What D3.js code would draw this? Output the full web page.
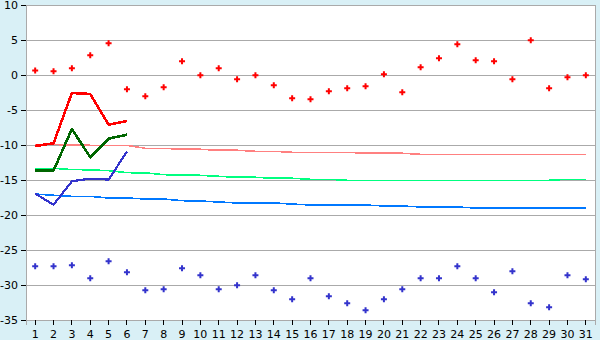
<!DOCTYPE html>
<html><head><meta charset="utf-8">
<script src="https://cdn.jsdelivr.net/npm/d3@7/dist/d3.min.js"></script>
<style>
html,body{margin:0;padding:0;background:#d9f0f6;}
svg{display:block;}
text{font-family:"DejaVu Sans",sans-serif;font-size:11px;fill:#000;}
</style></head><body>
<svg id="c" width="600" height="340"></svg>
<script>
const days = d3.range(1, 32);
const yTicks = [-35, -30, -25, -20, -15, -10, -5, 0, 5, 10];

const redPoints = [0.7,0.57,1.0,2.86,4.57,-2.0,-3.0,-1.71,2.0,0,1.0,-0.57,0,-1.43,-3.29,-3.43,-2.29,-1.86,-1.57,0.14,-2.43,1.14,2.43,4.43,2.14,2.0,-0.57,5.0,-1.86,-0.29,0];
const bluePoints = [-27.29,-27.29,-27.14,-29.0,-26.57,-28.14,-30.71,-30.57,-27.57,-28.57,-30.57,-30.0,-28.57,-30.71,-32.0,-29.0,-31.57,-32.57,-33.57,-32.0,-30.57,-29.0,-29.0,-27.29,-29.0,-31.0,-28.0,-32.57,-33.14,-28.57,-29.14];

const redLine = [-10.1,-9.71,-2.53,-2.67,-7.05,-6.53];
const greenLine = [-13.62,-13.62,-7.67,-11.71,-9.05,-8.48];
const blueLine = [-16.9,-18.48,-15.14,-14.76,-14.9,-10.9];

const pinkNormal = [-9.86,-9.9,-9.95,-10.0,-10.0,-10.0,-10.43,-10.43,-10.57,-10.57,-10.71,-10.71,-10.86,-10.86,-11.0,-11.0,-11.0,-11.0,-11.14,-11.14,-11.14,-11.29,-11.29,-11.29,-11.29,-11.29,-11.29,-11.29,-11.29,-11.29,-11.29];
const greenNormal = [-13.29,-13.29,-13.47,-13.5,-13.63,-13.91,-13.93,-14.2,-14.22,-14.29,-14.43,-14.57,-14.57,-14.71,-14.71,-14.86,-14.86,-15.0,-15.0,-15.0,-15.0,-15.0,-15.0,-15.0,-15.0,-15.0,-15.0,-15.0,-15.0,-14.86,-14.86];
const blueNormal = [-16.96,-17.14,-17.29,-17.29,-17.53,-17.53,-17.67,-17.67,-17.91,-17.96,-18.1,-18.24,-18.24,-18.24,-18.39,-18.53,-18.53,-18.53,-18.53,-18.67,-18.67,-18.81,-18.81,-18.81,-18.96,-18.96,-18.96,-18.96,-18.96,-18.96,-18.96];

const svg = d3.select("#c");
const L = 26, R = 595, T = 5.3, B = 320.3;
const x = d3.scaleBand().domain(days).range([L, R]).padding(0);
const cx = d => x(d) + x.bandwidth() / 2;
const y = d3.scaleLinear().domain([-35, 10]).range([B, T]);

svg.append("rect").attr("x", L).attr("y", T).attr("width", R - L).attr("height", B - T).attr("fill", "#fff");

// gridlines
svg.append("g").selectAll("line").data(yTicks).join("line")
  .attr("x1", L).attr("x2", R).attr("y1", d => y(d)).attr("y2", d => y(d))
  .attr("stroke", "#aaaaaa").attr("stroke-width", 1).attr("shape-rendering", "crispEdges");

// border
svg.append("rect").attr("x", L).attr("y", T).attr("width", R - L).attr("height", B - T)
  .attr("fill", "none").attr("stroke", "#aaaaaa").attr("shape-rendering", "crispEdges");

// axes
const fmt = d => String(d);
const yAxis = svg.append("g").attr("transform", `translate(${L},0)`)
  .call(d3.axisLeft(y).tickValues(yTicks).tickFormat(fmt).tickSize(5).tickPadding(3));
const xAxis = svg.append("g").attr("transform", `translate(0,${B})`)
  .call(d3.axisBottom(x).tickSize(5).tickPadding(5));
[yAxis, xAxis].forEach(a => {
  a.selectAll("path").attr("stroke", "#aaaaaa").attr("shape-rendering", "crispEdges");
  a.selectAll("line").attr("stroke", "#000").attr("shape-rendering", "crispEdges");
  a.selectAll("text").style("font-family", "DejaVu Sans, sans-serif").style("font-size", "11px").attr("fill", "#000");
});

const line = d3.line().x((d, i) => cx(days[i])).y(d => y(d));

function drawLine(data, color, w) {
  svg.append("path").datum(data).attr("d", line).attr("fill", "none")
    .attr("stroke", color).attr("stroke-width", w).attr("shape-rendering", "crispEdges")
    .attr("stroke-linejoin", "round");
}
drawLine(pinkNormal, "#ff8080", 1.6);
drawLine(greenNormal, "#00ff80", 1.6);
drawLine(blueNormal, "#0078ff", 1.6);
drawLine(redLine, "#ff0000", 2.6);
drawLine(greenLine, "#006600", 2.6);
drawLine(blueLine, "#3333cc", 2.2);

const sym = d3.symbol().type(d3.symbolCross).size(20);
function drawPts(data, color) {
  svg.append("g").selectAll("path").data(data).join("path")
    .attr("transform", (d, i) => `translate(${cx(days[i])},${y(d)})`)
    .attr("d", sym).attr("fill", color);
}
drawPts(redPoints, "#ff0000");
drawPts(bluePoints, "#3333cc");
</script>
</body></html>
